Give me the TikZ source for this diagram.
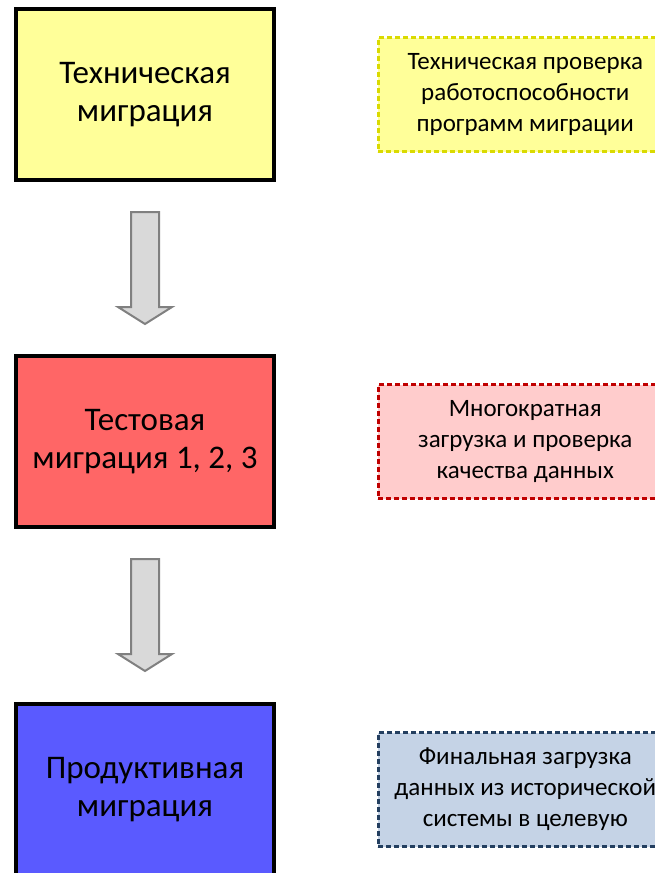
\documentclass[tikz,border=0pt]{standalone}
\usepackage{fontspec}
\setmainfont{Carlito}
\usetikzlibrary{positioning}

\definecolor{techfill}{HTML}{FFFF99}
\definecolor{testfill}{HTML}{FF6666}
\definecolor{prodfill}{HTML}{5A5AFF}
\definecolor{technotefill}{HTML}{FFFF99}
\definecolor{technoteline}{HTML}{DADA00}
\definecolor{testnotefill}{HTML}{FFCCCC}
\definecolor{testnoteline}{HTML}{C00000}
\definecolor{prodnotefill}{HTML}{C5D3E6}
\definecolor{prodnoteline}{HTML}{243F60}
\definecolor{arrowfill}{HTML}{D9D9D9}
\definecolor{arrowline}{HTML}{808080}

\tikzset{
	stage/.style={draw=black, line width=4pt, minimum width=258pt, minimum height=171pt, align=center, font=\fontsize{33}{38}\selectfont},
	note/.style={line width=2.5pt, dash pattern=on 5pt off 3pt, minimum width=294pt, minimum height=114pt, align=center, font=\fontsize{25}{31}\selectfont},
	blockarrow/.style={draw=arrowline, fill=arrowfill, line width=2pt}
}

\begin{document}
\begin{tikzpicture}[x=1pt,y=1pt]
	\useasboundingbox (0,0) rectangle (655,-873);
	\clip (0,0) rectangle (655,-873);
	
	% stages
	\node (tech) [stage, fill=techfill] at (145,-94.5) {Техническая\\миграция};
	\node (test) [stage, fill=testfill] at (145,-441.5) {Тестовая\\миграция 1, 2, 3};
	\node (prod) [stage, fill=prodfill] at (145,-789.5) {Продуктивная\\миграция};
	
	% notes
	\node (technote) [note, draw=technoteline, fill=technotefill, right=101pt of tech] {Техническая проверка\\работоспособности\\программ миграции};
	\node (testnote) [note, draw=testnoteline, fill=testnotefill, right=101pt of test] {Многократная\\загрузка и проверка\\качества данных};
	\node (prodnote) [note, draw=prodnoteline, fill=prodnotefill, right=101pt of prod] {Финальная загрузка\\данных из исторической\\системы в целевую};
	
	\foreach \a in {tech,test}{
		\draw [blockarrow, shift={(\a.south)}] (-14,-30) -- (14,-30) -- (14,-125) -- (27,-125) -- (0,-142) -- (-27,-125) -- (-14,-125) -- cycle;
	}
	
\end{tikzpicture}
\end{document}
